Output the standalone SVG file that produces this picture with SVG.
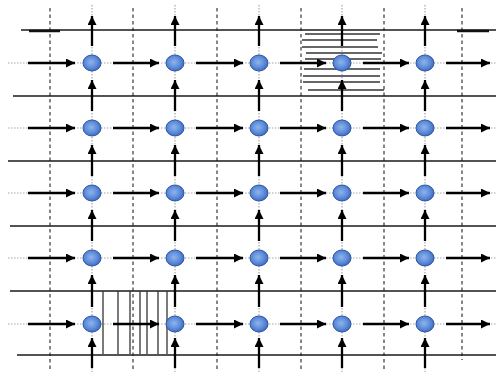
<svg xmlns="http://www.w3.org/2000/svg" width="496" height="372" viewBox="0 0 496 372">
<defs>
<radialGradient id="ng" cx="0.45" cy="0.45" r="0.6">
<stop offset="0" stop-color="#8fb4ec"/>
<stop offset="0.6" stop-color="#5b8ad8"/>
<stop offset="1" stop-color="#3a64b8"/>
</radialGradient>
<marker id="ah" viewBox="0 0 10 10" refX="10" refY="5" markerWidth="10" markerHeight="9" markerUnits="userSpaceOnUse" orient="auto">
<path d="M0,0 L10,5 L0,10 Z" fill="#000"/>
</marker>
</defs>
<style>
.dot{stroke:#a8a8a8;stroke-width:1.2;stroke-dasharray:1.5 1.5;fill:none}
.dash{stroke:#555;stroke-width:1.4;stroke-dasharray:3.5 3;fill:none}
.hl{stroke:#1a1a1a;stroke-width:1.4;fill:none}
.thick{stroke:#111;stroke-width:2.5;fill:none}
.hatch{stroke:#333;stroke-width:1.3;fill:none}
.arr{stroke:#000;stroke-width:2.3;fill:none;marker-end:url(#ah)}
.node{fill:url(#ng);stroke:#2f56a6;stroke-width:1}
</style>
<rect width="496" height="372" fill="#fff"/>
<g id="grid">
<g id="dashed-verticals">
<line class="dash" x1="50" y1="8" x2="50" y2="372"/>
<line class="dash" x1="133" y1="8" x2="133" y2="372"/>
<line class="dash" x1="217" y1="8" x2="217" y2="372"/>
<line class="dash" x1="301" y1="8" x2="301" y2="372"/>
<line class="dash" x1="384" y1="8" x2="384" y2="372"/>
<line class="dash" x1="462" y1="8" x2="462" y2="360"/>
</g>
<g id="solid-horizontals">
<line class="hl" x1="21" y1="30" x2="496" y2="30"/>
<line class="hl" x1="13" y1="96" x2="496" y2="96"/>
<line class="hl" x1="8" y1="161" x2="496" y2="161"/>
<line class="hl" x1="10" y1="226" x2="496" y2="226"/>
<line class="hl" x1="10" y1="291" x2="496" y2="291"/>
<line class="hl" x1="17" y1="355" x2="496" y2="355"/>
<line class="thick" x1="29" y1="31" x2="60" y2="31"/>
<line class="thick" x1="457" y1="31" x2="489" y2="31"/>
</g>
<g id="dotted-guides">
<line class="dot" x1="8" y1="63" x2="496" y2="63"/>
<line class="dot" x1="8" y1="128" x2="496" y2="128"/>
<line class="dot" x1="8" y1="193" x2="496" y2="193"/>
<line class="dot" x1="8" y1="258" x2="496" y2="258"/>
<line class="dot" x1="8" y1="324" x2="496" y2="324"/>
<line class="dot" x1="92" y1="5" x2="92" y2="372"/>
<line class="dot" x1="175" y1="5" x2="175" y2="372"/>
<line class="dot" x1="259" y1="5" x2="259" y2="372"/>
<line class="dot" x1="342" y1="5" x2="342" y2="372"/>
<line class="dot" x1="425" y1="5" x2="425" y2="372"/>
</g>
<g id="hatch-top">
<line class="hatch" x1="305" y1="34" x2="380" y2="34"/>
<line class="hatch" x1="302" y1="40" x2="377" y2="40"/>
<line class="hatch" x1="302" y1="47" x2="378" y2="47"/>
<line class="hatch" x1="306" y1="53" x2="382" y2="53"/>
<line class="hatch" x1="305" y1="59" x2="381" y2="59"/>
<line class="hatch" x1="304" y1="69" x2="380" y2="69"/>
<line class="hatch" x1="303" y1="76" x2="380" y2="76"/>
<line class="hatch" x1="303" y1="82" x2="380" y2="82"/>
<line class="hatch" x1="308" y1="90" x2="384" y2="90"/>
</g>
<g id="hatch-bottom">
<line class="hatch" x1="103" y1="291" x2="103" y2="354"/>
<line class="hatch" x1="118" y1="291" x2="118" y2="354"/>
<line class="hatch" x1="130" y1="291" x2="130" y2="354"/>
<line class="hatch" x1="140" y1="291" x2="140" y2="354"/>
<line class="hatch" x1="147" y1="291" x2="147" y2="354"/>
<line class="hatch" x1="158" y1="291" x2="158" y2="354"/>
<line class="hatch" x1="167" y1="291" x2="167" y2="354"/>
</g>
</g>
<g id="connectors">
<line class="arr" x1="28" y1="63" x2="75" y2="63"/><line class="arr" x1="113" y1="63" x2="159" y2="63"/><line class="arr" x1="196" y1="63" x2="243" y2="63"/><line class="arr" x1="280" y1="63" x2="326" y2="63"/><line class="arr" x1="363" y1="63" x2="409" y2="63"/><line class="arr" x1="446" y1="63" x2="490" y2="63"/>
<line class="arr" x1="28" y1="128" x2="75" y2="128"/><line class="arr" x1="113" y1="128" x2="159" y2="128"/><line class="arr" x1="196" y1="128" x2="243" y2="128"/><line class="arr" x1="280" y1="128" x2="326" y2="128"/><line class="arr" x1="363" y1="128" x2="409" y2="128"/><line class="arr" x1="446" y1="128" x2="490" y2="128"/>
<line class="arr" x1="28" y1="193" x2="75" y2="193"/><line class="arr" x1="113" y1="193" x2="159" y2="193"/><line class="arr" x1="196" y1="193" x2="243" y2="193"/><line class="arr" x1="280" y1="193" x2="326" y2="193"/><line class="arr" x1="363" y1="193" x2="409" y2="193"/><line class="arr" x1="446" y1="193" x2="490" y2="193"/>
<line class="arr" x1="28" y1="258" x2="75" y2="258"/><line class="arr" x1="113" y1="258" x2="159" y2="258"/><line class="arr" x1="196" y1="258" x2="243" y2="258"/><line class="arr" x1="280" y1="258" x2="326" y2="258"/><line class="arr" x1="363" y1="258" x2="409" y2="258"/><line class="arr" x1="446" y1="258" x2="490" y2="258"/>
<line class="arr" x1="28" y1="324" x2="75" y2="324"/><line class="arr" x1="113" y1="324" x2="159" y2="324"/><line class="arr" x1="196" y1="324" x2="243" y2="324"/><line class="arr" x1="280" y1="324" x2="326" y2="324"/><line class="arr" x1="363" y1="324" x2="409" y2="324"/><line class="arr" x1="446" y1="324" x2="490" y2="324"/>
<line class="arr" x1="92" y1="46" x2="92" y2="16"/><line class="arr" x1="92" y1="111" x2="92" y2="80"/><line class="arr" x1="92" y1="176" x2="92" y2="145"/><line class="arr" x1="92" y1="241" x2="92" y2="210"/><line class="arr" x1="92" y1="307" x2="92" y2="275"/><line class="arr" x1="92" y1="368" x2="92" y2="338"/>
<line class="arr" x1="175" y1="46" x2="175" y2="16"/><line class="arr" x1="175" y1="111" x2="175" y2="80"/><line class="arr" x1="175" y1="176" x2="175" y2="145"/><line class="arr" x1="175" y1="241" x2="175" y2="210"/><line class="arr" x1="175" y1="307" x2="175" y2="275"/><line class="arr" x1="175" y1="368" x2="175" y2="338"/>
<line class="arr" x1="259" y1="46" x2="259" y2="16"/><line class="arr" x1="259" y1="111" x2="259" y2="80"/><line class="arr" x1="259" y1="176" x2="259" y2="145"/><line class="arr" x1="259" y1="241" x2="259" y2="210"/><line class="arr" x1="259" y1="307" x2="259" y2="275"/><line class="arr" x1="259" y1="368" x2="259" y2="338"/>
<line class="arr" x1="342" y1="46" x2="342" y2="16"/><line class="arr" x1="342" y1="111" x2="342" y2="80"/><line class="arr" x1="342" y1="176" x2="342" y2="145"/><line class="arr" x1="342" y1="241" x2="342" y2="210"/><line class="arr" x1="342" y1="307" x2="342" y2="275"/><line class="arr" x1="342" y1="368" x2="342" y2="338"/>
<line class="arr" x1="425" y1="46" x2="425" y2="16"/><line class="arr" x1="425" y1="111" x2="425" y2="80"/><line class="arr" x1="425" y1="176" x2="425" y2="145"/><line class="arr" x1="425" y1="241" x2="425" y2="210"/><line class="arr" x1="425" y1="307" x2="425" y2="275"/><line class="arr" x1="425" y1="368" x2="425" y2="338"/>
</g>
<g id="nodes">
<g id="n11"><ellipse class="node" cx="92" cy="63" rx="9" ry="8"/></g>
<g id="n12"><ellipse class="node" cx="175" cy="63" rx="9" ry="8"/></g>
<g id="n13"><ellipse class="node" cx="259" cy="63" rx="9" ry="8"/></g>
<g id="n14"><ellipse class="node" cx="342" cy="63" rx="9" ry="8"/></g>
<g id="n15"><ellipse class="node" cx="425" cy="63" rx="9" ry="8"/></g>
<g id="n21"><ellipse class="node" cx="92" cy="128" rx="9" ry="8"/></g>
<g id="n22"><ellipse class="node" cx="175" cy="128" rx="9" ry="8"/></g>
<g id="n23"><ellipse class="node" cx="259" cy="128" rx="9" ry="8"/></g>
<g id="n24"><ellipse class="node" cx="342" cy="128" rx="9" ry="8"/></g>
<g id="n25"><ellipse class="node" cx="425" cy="128" rx="9" ry="8"/></g>
<g id="n31"><ellipse class="node" cx="92" cy="193" rx="9" ry="8"/></g>
<g id="n32"><ellipse class="node" cx="175" cy="193" rx="9" ry="8"/></g>
<g id="n33"><ellipse class="node" cx="259" cy="193" rx="9" ry="8"/></g>
<g id="n34"><ellipse class="node" cx="342" cy="193" rx="9" ry="8"/></g>
<g id="n35"><ellipse class="node" cx="425" cy="193" rx="9" ry="8"/></g>
<g id="n41"><ellipse class="node" cx="92" cy="258" rx="9" ry="8"/></g>
<g id="n42"><ellipse class="node" cx="175" cy="258" rx="9" ry="8"/></g>
<g id="n43"><ellipse class="node" cx="259" cy="258" rx="9" ry="8"/></g>
<g id="n44"><ellipse class="node" cx="342" cy="258" rx="9" ry="8"/></g>
<g id="n45"><ellipse class="node" cx="425" cy="258" rx="9" ry="8"/></g>
<g id="n51"><ellipse class="node" cx="92" cy="324" rx="9" ry="8"/></g>
<g id="n52"><ellipse class="node" cx="175" cy="324" rx="9" ry="8"/></g>
<g id="n53"><ellipse class="node" cx="259" cy="324" rx="9" ry="8"/></g>
<g id="n54"><ellipse class="node" cx="342" cy="324" rx="9" ry="8"/></g>
<g id="n55"><ellipse class="node" cx="425" cy="324" rx="9" ry="8"/></g>
</g>
</svg>
